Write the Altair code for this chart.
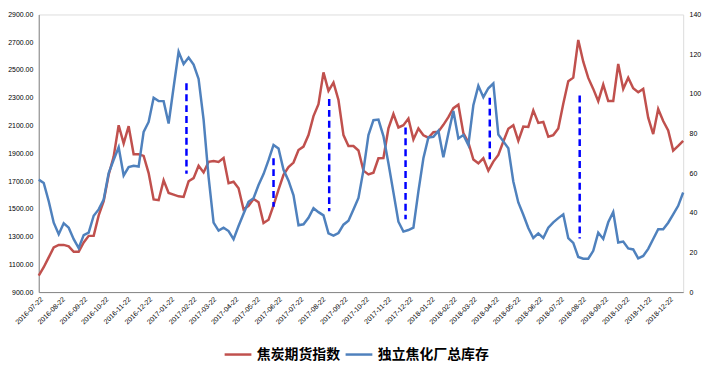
import altair as alt
import pandas as pd

start_date = "2016-07-22"
series_names = ["焦炭期货指数", "独立焦化厂总库存"]
series_colors = ["#C0504D", "#4F81BD"]

red_vals = [1019, 1079, 1150, 1221, 1240, 1240, 1229, 1190, 1190, 1257,
            1305, 1305, 1452, 1555, 1745, 1876, 2102, 1971, 2095, 1893,
            1893, 1881, 1757, 1567, 1562, 1705, 1614, 1602, 1590, 1586,
            1698, 1721, 1810, 1762, 1838, 1845, 1838, 1866, 1684, 1695,
            1648, 1495, 1522, 1571, 1547, 1398, 1421, 1525, 1638, 1745,
            1800, 1833, 1924, 1948, 2031, 2168, 2253, 2483, 2350, 2409,
            2284, 2031, 1952, 1952, 1920, 1775, 1748, 1760, 1864, 1866,
            2079, 2183, 2086, 2102, 2150, 2000, 2079, 2030, 2012, 2052,
            2056, 2105, 2160, 2225, 2250, 2045, 1978, 1855, 1828, 1864,
            1775, 1840, 1888, 1985, 2076, 2102, 1989, 2092, 2090, 2209,
            2119, 2126, 2019, 2031, 2079, 2257, 2419, 2445, 2716, 2560,
            2443, 2364, 2275, 2395, 2276, 2276, 2543, 2364, 2445, 2368,
            2340, 2364, 2157, 2038, 2219, 2132, 2064, 1919, 1953, 1990]

blue_vals = [56.7, 55.0, 45.8, 35.0, 29.2, 34.7, 32.5, 26.7, 22.2, 28.7,
             30.0, 38.5, 41.7, 46.7, 60.0, 66.7, 73.0, 58.8, 63.0, 63.7,
             63.3, 80.8, 85.8, 98.0, 96.3, 96.3, 85.0, 103.3, 121.2, 115.0,
             118.3, 114.7, 107.5, 87.0, 58.0, 35.0, 31.0, 32.5, 30.8, 26.7,
             33.3, 39.5, 45.5, 47.3, 54.0, 59.5, 66.5, 74.2, 72.4, 61.7,
             56.2, 48.8, 33.7, 34.2, 37.5, 42.3, 40.3, 38.7, 29.6, 28.5,
             29.8, 34.0, 36.0, 41.7, 47.5, 61.5, 79.2, 86.7, 87.0, 78.7,
             65.0, 50.3, 35.5, 30.5, 31.3, 32.5, 50.8, 67.5, 78.0, 78.3,
             81.3, 68.0, 80.0, 91.3, 77.5, 79.2, 74.2, 94.2, 104.0, 98.3,
             102.8, 105.2, 79.5, 76.0, 72.5, 55.8, 45.2, 39.0, 32.3, 27.3,
             29.6, 27.3, 32.5, 35.2, 37.3, 39.2, 27.2, 24.8, 17.7, 16.8,
             16.8, 20.8, 30.0, 26.8, 35.2, 40.4, 25.0, 25.5, 22.0, 21.5,
             17.0, 18.2, 21.8, 26.8, 31.7, 31.7, 35.0, 39.2, 43.5, 50.2]

tick_labels = ["2016-07-22", "2016-08-22", "2016-09-22", "2016-10-22", "2016-11-22",
               "2016-12-22", "2017-01-22", "2017-02-22", "2017-03-22", "2017-04-22",
               "2017-05-22", "2017-06-22", "2017-07-22", "2017-08-22", "2017-09-22",
               "2017-10-22", "2017-11-22", "2017-12-22", "2018-01-22", "2018-02-22",
               "2018-03-22", "2018-04-22", "2018-05-22", "2018-06-22", "2018-07-22",
               "2018-08-22", "2018-09-22", "2018-10-22", "2018-11-22", "2018-12-22"]
left_ticks = [900, 1100, 1300, 1500, 1700, 1900, 2100, 2300, 2500, 2700, 2900]
right_ticks = [0, 20, 40, 60, 80, 100, 120, 140]

ann_dates = ["2017-02-14", "2017-06-16", "2017-09-02", "2017-12-18", "2018-04-15", "2018-08-19"]
ann_top = [2404, 1864, 2291, 2086, 2300, 2316]
ann_bottom = [1752, 1514, 1483, 1424, 1840, 1286]

dates = list(pd.date_range(start_date, periods=len(red_vals), freq="7D").strftime("%Y-%m-%d"))


def ms(s):
    return int(pd.Timestamp(s, tz="UTC").value // 10**6)


df_red = pd.DataFrame({"date": dates, "value": red_vals, "series": series_names[0]})
df_blue = pd.DataFrame({"date": dates, "value": blue_vals, "series": series_names[1]})
df_ann = pd.DataFrame({"date": ann_dates, "top": ann_top, "bottom": ann_bottom})

FONT = "Liberation Sans"
xscale = alt.Scale(type="utc", domain=[ms(dates[0]), ms(dates[-1])])
xaxis = alt.Axis(values=[ms(t) for t in tick_labels],
                 labelExpr="utcFormat(datum.value, '%Y-%m-%d')",
                 labelAngle=-45, labelFontSize=7, labelFont=FONT, labelColor="#000",
                 labelPadding=3, labelOverlap=False, labelFlush=False, labelBound=False,
                 ticks=False, grid=False, domainColor="#868686", domainWidth=1, title=None)
left_scale = alt.Scale(domain=[900, 2900], nice=False, zero=False)
right_scale = alt.Scale(domain=[0, 140], nice=False, zero=True)

color = alt.Color("series:N",
                  scale=alt.Scale(domain=series_names, range=series_colors),
                  legend=alt.Legend(orient="none", legendX=186, legendY=328,
                                    direction="horizontal", title=None,
                                    symbolType="stroke", symbolSize=729,
                                    symbolStrokeWidth=2.5,
                                    labelFont="Noto Sans CJK SC", labelFontSize=14,
                                    labelFontWeight="bold", labelColor="#000",
                                    labelOffset=4, columnPadding=0))

red = alt.Chart(df_red).mark_line(strokeWidth=2.5).encode(
    x=alt.X("date:T", scale=xscale, axis=xaxis),
    y=alt.Y("value:Q", scale=left_scale,
            axis=alt.Axis(orient="left", values=left_ticks, format=".2f",
                          labelFontSize=7, labelFont=FONT, labelColor="#000",
                          labelPadding=6, ticks=False, grid=False,
                          domainColor="#868686", title=None)),
    color=color,
)

blue = alt.Chart(df_blue).mark_line(strokeWidth=2.5).encode(
    x=alt.X("date:T", scale=xscale, axis=xaxis),
    y=alt.Y("value:Q", scale=right_scale,
            axis=alt.Axis(orient="right", values=right_ticks, format="d",
                          labelFontSize=7, labelFont=FONT, labelColor="#000",
                          labelPadding=6, ticks=False, grid=False,
                          domain=False, title=None)),
    color=color,
)

rules = alt.Chart(df_ann).mark_rule(color="#0000FF", strokeWidth=2.5,
                                     strokeDash=[7, 4]).encode(
    x=alt.X("date:T", scale=xscale, axis=xaxis),
    y=alt.Y("top:Q", scale=left_scale, axis=None),
    y2="bottom:Q",
)

chart = alt.layer(red, blue, rules).resolve_scale(y="independent").properties(
    width=650, height=280,
    autosize=alt.AutoSizeParams(type="none"),
    padding={"left": 31, "top": 5, "right": 20, "bottom": 70},
).configure_view(strokeWidth=0).configure(background="white")

chart.save("out.html", embed_options={"renderer": "svg", "actions": False})
